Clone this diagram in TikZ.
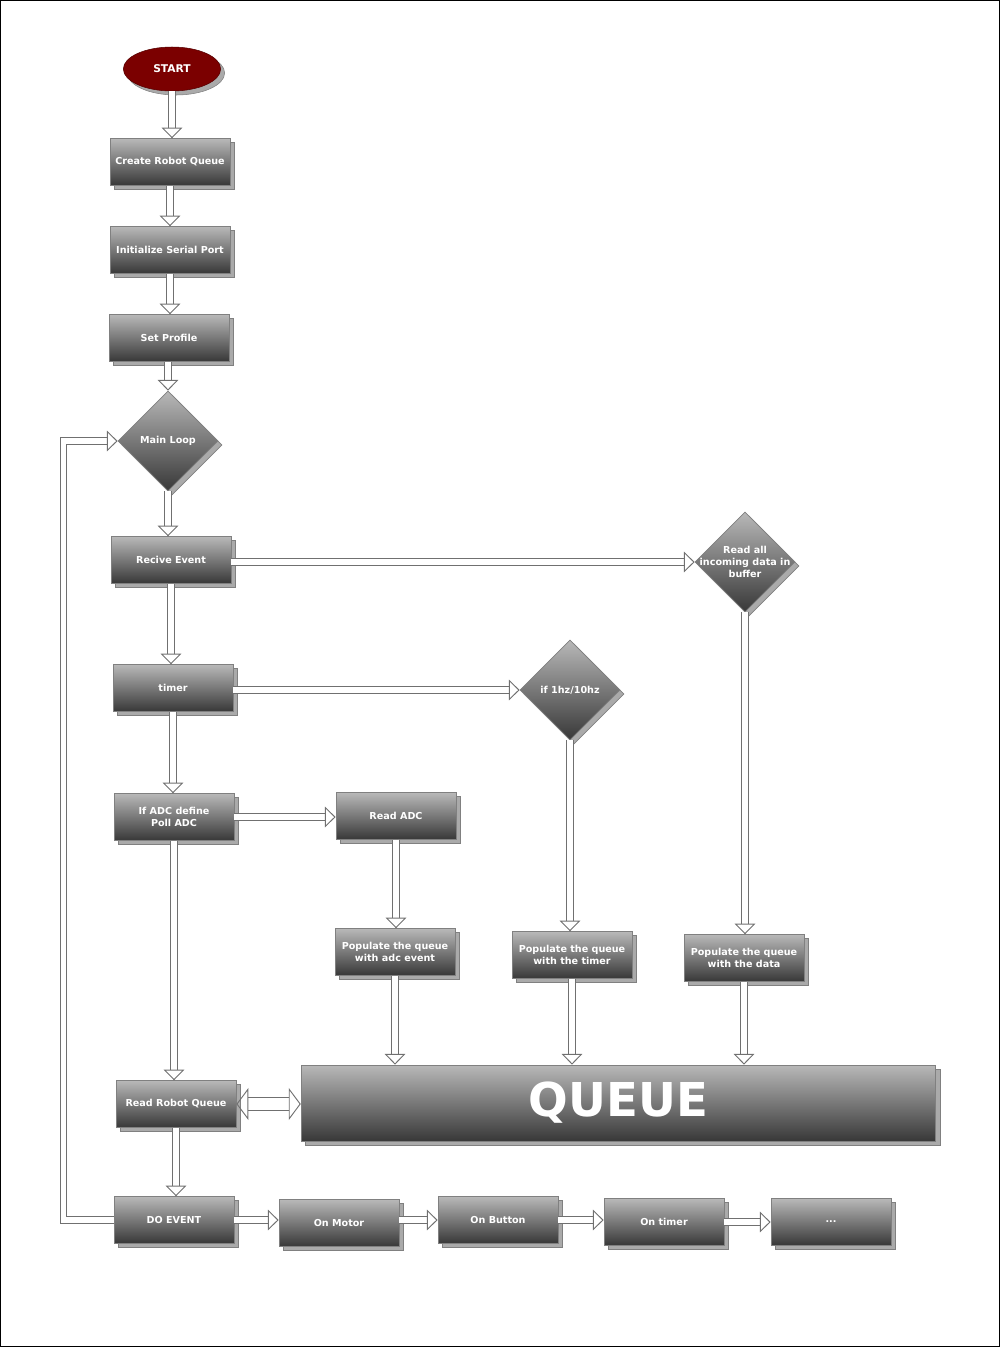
\documentclass[tikz,border=0pt]{standalone}
\usepackage{fontspec}
\setmainfont{DejaVu Sans}
\usepackage{tikz}
\usetikzlibrary{arrows.meta, shapes.geometric, shadows, positioning}
\definecolor{boxtop}{HTML}{B8B8B8}
\definecolor{boxbot}{HTML}{383838}
\definecolor{boxline}{HTML}{808080}
\definecolor{shadowfill}{HTML}{AAAAAA}
\definecolor{startred}{HTML}{7B0000}
\definecolor{arrowgray}{HTML}{707070}
\tikzstyle{arrow} = [draw=arrowgray, line width=0.7pt, double=white, double distance=4pt, -{Triangle[open, length=8pt, width=15.5pt, line width=0.7pt]}]
\tikzstyle{bigarrow} = [draw=arrowgray, line width=0.7pt, double=white, double distance=8.5pt, {Triangle[open, length=9pt, width=24pt, line width=0.7pt]}-{Triangle[open, length=9pt, width=24pt, line width=0.7pt]}]
\tikzset{
  shade box/.style={top color=boxtop, bottom color=boxbot, draw=boxline, line width=0.6pt,
    general shadow={fill=shadowfill, draw=boxline, line width=0.5pt, shadow xshift=3pt, shadow yshift=-3pt}},
  process/.style={shade box, rectangle, minimum width=90pt, minimum height=35pt, inner sep=1pt,
    text=white, font=\fontsize{7.2}{9}\selectfont\bfseries, align=center},
  decision/.style={shade box, diamond, minimum width=75pt, minimum height=75pt, inner sep=0pt},
  dtext/.style={text=white, font=\fontsize{7.2}{9}\selectfont\bfseries, align=center},
}

\begin{document}
\begin{tikzpicture}[x=0.75pt, y=-0.75pt]
    \useasboundingbox (0,0) rectangle (1000,1347);
    % Draw the outer frame
    \draw[line width=0.75pt] (0.5,0.5) rectangle (999.5,1346.5);

    % Draw the start of the program
    \node[ellipse, fill=startred, draw=startred!70!black, minimum width=73pt, minimum height=33pt,
      general shadow={fill=shadowfill, draw=boxline, shadow xshift=3pt, shadow yshift=-3pt},
      text=white, font=\fontsize{8}{9}\selectfont\bfseries] (start) at (172,69) {START};

    % Draw the set-up steps
    \node[process] (createq) at (170,162) {Create Robot Queue};
    \node[process] (initsp) at (170,250) {Initialize Serial Port};
    \node[process] (setprof) at (169,338) {Set Profile};
    \node[decision, label={[dtext]center:Main Loop}] (mainloop) at (168,441) {};

    % Draw the events
    \node[process] (recvev) at (171,560) {Recive Event};
    \node[decision, label={[dtext]center:Read all\\incoming data in\\buffer}] (readall) at (745,562) {};
    \node[process] (timer) at (173,688) {timer};
    \node[decision, label={[dtext]center:if 1hz/10hz}] (ifhz) at (570,690) {};
    \node[process] (ifadc) at (174,817) {If ADC define\\Poll ADC};
    \node[process] (readadc) at (396,816) {Read ADC};

    % Draw the steps that fill the queue
    \node[process] (popadc) at (395,952) {Populate the queue\\with adc event};
    \node[process] (poptimer) at (572,955) {Populate the queue\\with the timer};
    \node[process] (popdata) at (744,958) {Populate the queue\\with the data};
    \node[shade box, rectangle, minimum width=476pt, minimum height=57pt, text=white,
      font=\fontsize{35}{40}\selectfont\bfseries] (queue) at (618.5,1103) {QUEUE};
    \node[process] (readrq) at (176,1104) {Read Robot Queue};

    % Draw the event handlers
    \node[process] (doevent) at (174,1220) {DO EVENT};
    \node[process] (onmotor) at (339,1223) {On Motor};
    \node[process] (onbutton) at (498,1220) {On Button};
    \node[process] (ontimer) at (664,1222) {On timer};
    \node[process] (more) at (831,1222) {...};

    % Draw the arrows down the main column
    \draw[arrow] (start.south) -- (start.south |- createq.north);
    \draw[arrow] (createq.south) -- (createq.south |- initsp.north);
    \draw[arrow] (initsp.south) -- (initsp.south |- setprof.north);
    \draw[arrow] (setprof.south -| mainloop) -- (mainloop.north);
    \draw[arrow] (mainloop.south) -- (mainloop.south |- recvev.north);
    \draw[arrow] (recvev.south) -- (recvev.south |- timer.north);
    \draw[arrow] (timer.south) -- (timer.south |- ifadc.north);
    \draw[arrow] (ifadc.south) -- (ifadc.south |- readrq.north);
    \draw[arrow] (readrq.south) -- (readrq.south |- doevent.north);

    % Draw the arrows to the right
    \draw[arrow] (recvev.east |- readall) -- (readall.west);
    \draw[arrow] (timer.east |- ifhz) -- (ifhz.west);
    \draw[arrow] (ifadc.east) -- (ifadc.east -| readadc.west);
    \draw[arrow] (readadc.south) -- (readadc.south |- popadc.north);
    \draw[arrow] (ifhz.south) -- (ifhz.south |- poptimer.north);
    \draw[arrow] (readall.south) -- (readall.south |- popdata.north);

    % Draw the arrows into the queue
    \draw[arrow] (popadc.south) -- (popadc.south |- queue.north);
    \draw[arrow] (poptimer.south) -- (poptimer.south |- queue.north);
    \draw[arrow] (popdata.south) -- (popdata.south |- queue.north);
    \draw[bigarrow] (readrq.east) -- (readrq.east -| queue.west);

    % Draw the loop back and the handlers
    \draw[arrow] (doevent.west) -- ++(-50,0) |- (mainloop.west);
    \draw[arrow] (doevent.east) -- (doevent.east -| onmotor.west);
    \draw[arrow] (onmotor.east |- onbutton) -- (onbutton.west);
    \draw[arrow] (onbutton.east) -- (onbutton.east -| ontimer.west);
    \draw[arrow] (ontimer.east) -- (ontimer.east -| more.west);
\end{tikzpicture}
\end{document}
